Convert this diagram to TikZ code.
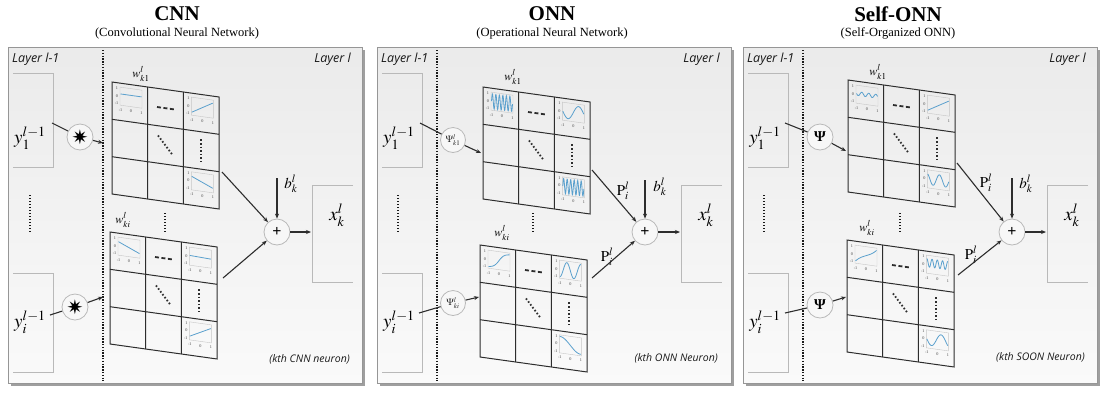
\documentclass[tikz,border=0pt]{standalone}
\usepackage{amsmath}
\usepackage{mathptmx}
\usepackage{fontspec}
\setmainfont{Liberation Serif}
\setsansfont{Open Sans}
\newfontfamily\dingfont{DejaVu Sans}
\usetikzlibrary{arrows.meta,positioning,calc}
\definecolor{curveblue}{RGB}{90,160,205}
\definecolor{frameline}{RGB}{150,150,150}
\definecolor{inkgray}{RGB}{45,45,45}

\tikzset{
  plotbox/.style={draw=gray!45, line width=0.4pt},
  tickl/.style={font=\fontsize{4.2}{5}\selectfont, text=gray!50!black, inner sep=0pt},
  curve/.style={draw=curveblue, line width=0.8pt},
  cellgrid/.style={draw=inkgray, line width=1pt},
  hdash/.style={draw=inkgray, line width=1.8pt, dash pattern=on 4pt off 2.5pt},
  celldots/.style={draw=inkgray, line width=1.8pt, dash pattern=on 1.6pt off 2pt},
}

% small axis with one curve, drawn in a cell
\newcommand{\miniplot}[4]{%
  \begin{scope}[shift={(#2+8,#3+4)}]
    \draw[plotbox] (0,0) rectangle (22,18);
    \node[tickl] (#1-ya) at (-3,1.5) {1};
    \node[tickl] (#1-yb) at (-3,9) {0};
    \node[tickl] (#1-yc) at (-3.5,16.5) {-1};
    \node[tickl] (#1-xa) at (0.5,22.5) {-1};
    \node[tickl] (#1-xb) at (11,22.5) {0};
    \node[tickl] (#1-xc) at (21.5,22.5) {1};
    \draw[curve] plot[domain=-1:1, samples=80] ({11+10.5*\x},{9-7.5*(#4)});
  \end{scope}}

% slanted 3x3 kernel grid
\newcommand{\wmatrix}[6]{%
  \begin{scope}[shift={(#2,#3)}, yslant=-0.14]
    \coordinate (#1-nw) at (0,0);
    \coordinate (#1-se) at (107,112);
    \draw[cellgrid] (0,0) -- (107,0) -- (107,112) -- (0,112) -- cycle;
    \draw[cellgrid] (35.7,0) -- (35.7,112) (71.3,0) -- (71.3,112)
                    (0,37.3) -- (107,37.3) (0,74.7) -- (107,74.7);
    \miniplot{#1-a}{0}{0}{#4}
    \miniplot{#1-b}{71.3}{0}{#5}
    \miniplot{#1-c}{71.3}{74.7}{#6}
    \draw[hdash] (45,18.7) -- (62,18.7);
    \draw[celldots] (46,47) -- (61,65);
    \draw[celldots] (89,45) -- (89,67);
  \end{scope}}

\newcommand{\panelframe}{%
  \fill[gray!75] (3,50) rectangle (357,386);
  \shade[top color=gray!16, bottom color=gray!4, draw=frameline, line width=0.6pt] (0,47) rectangle (354,383);
}

\begin{document}
\begin{tikzpicture}[
    x=1pt, y=-1pt,
    >={Stealth[length=5pt,width=4pt]},
    title/.style={font=\fontsize{21}{24}\selectfont\bfseries, inner sep=0pt},
    subtitle/.style={font=\fontsize{12.5}{14}\selectfont, inner sep=0pt},
    layerlab/.style={font=\sffamily\itshape\fontsize{12.5}{14}\selectfont, text=gray!20!black, inner sep=0pt},
    note/.style={font=\sffamily\itshape\fontsize{10.5}{12}\selectfont, text=gray!20!black, inner sep=0pt},
    biglab/.style={font=\fontsize{19}{22}\selectfont, inner sep=0pt},
    wlab/.style={font=\fontsize{12}{14}\selectfont, inner sep=0pt},
    blab/.style={font=\fontsize{15}{18}\selectfont, inner sep=0pt},
    opnode/.style={circle, draw=gray!55, fill=gray!6, line width=0.8pt, minimum size=26pt, inner sep=0pt, font=\fontsize{20}{20}\selectfont},
    psinode/.style={opnode, minimum size=25pt, font=\fontsize{9.5}{10}\selectfont, text=gray!30!black},
    psibold/.style={opnode, font=\fontsize{15}{16}\selectfont\bfseries},
    sumnode/.style={opnode, font=\fontsize{16}{16}\selectfont\bfseries},
    conn/.style={draw=inkgray, line width=1.1pt},
    divider/.style={draw=gray!20!black, line width=1.4pt, dash pattern=on 1.4pt off 1.4pt},
    inbox/.style={draw=gray!55, line width=0.7pt},
    vdots/.style={draw=gray!20!black, line width=1.6pt, dash pattern=on 1.4pt off 1.6pt}
  ]
  \useasboundingbox (0,0) rectangle (1100,392);

  % titles
  \node[title] (cnn-title) at (177,14) {CNN};
  \node[subtitle] (cnn-sub) at (177,33) {(Convolutional Neural Network)};
  \node[title] (onn-title) at (552,14) {ONN};
  \node[subtitle] (onn-sub) at (552,33) {(Operational Neural Network)};
  \node[title] (sonn-title) at (898,14) {Self-ONN};
  \node[subtitle] (sonn-sub) at (898,33) {(Self-Organized ONN)};

  % ---- CNN ----
  \begin{scope}[shift={(8,0)}]
    \panelframe
    \node[layerlab, anchor=west] (cnn-lprev) at (4,59) {Layer l-1};
    \node[layerlab, anchor=east] (cnn-lcur) at (343,59) {Layer l};
    \coordinate (cnn-dtop) at (95,50);
    \coordinate (cnn-dbot) at (95,381);
    \draw[divider] (cnn-dtop) -- (cnn-dbot);
    \draw[inbox] (5,73) -| (45,167) -- (5,167);
    \draw[inbox] (5,273) -| (45,372) -- (5,372);
    \draw[vdots] (22,195) -- (22,232);
    \node[biglab] (cnn-y1) at (22,138) {$y_1^{l-1}$};
    \node[biglab] (cnn-yi) at (22,322) {$y_i^{l-1}$};
    \coordinate (cnn-y1o) at (44,123);
    \coordinate (cnn-yio) at (42,315);
    \node[opnode] (cnn-op1) at (72,137) {\dingfont ✷};
    \node[opnode] (cnn-opi) at (67,307) {\dingfont ✷};
    \coordinate (cnn-in1) at (95,143);
    \coordinate (cnn-ini) at (95,297);
    \draw[conn] (cnn-y1o) -- (cnn-op1);
    \draw[conn,->] (cnn-op1) -- (cnn-in1);
    \draw[conn] (cnn-yio) -- (cnn-opi);
    \draw[conn,->] (cnn-opi) -- (cnn-ini);
    \wmatrix{cnn-m1}{104}{82}{0.3}{0.8*\x}{-0.6*\x}
    \wmatrix{cnn-mi}{102}{232}{-0.6*\x}{0.05-0.05*\x}{0.7*\x}
    \node[wlab] (cnn-w1) at (133,74) {$w_{k1}^{l}$};
    \node[wlab] (cnn-wi) at (115,220) {$w_{ki}^{l}$};
    \draw[vdots] (157,213) -- (157,233);
    \node[sumnode] (cnn-sum) at (269,232) {+};
    \node[blab] (cnn-b) at (283,184) {$b_k^l$};
    \coordinate (cnn-btop) at (269,178);
    \coordinate (cnn-m1o) at (214,172);
    \coordinate (cnn-mio) at (215,278);
    \draw[conn,->] (cnn-m1o) -- (cnn-sum);
    \draw[conn,->] (cnn-mio) -- (cnn-sum);
    \draw[conn,->] (cnn-btop) -- (cnn-sum);
    \draw[inbox] (345,185) -| (304,282) -- (345,282);
    \node[biglab] (cnn-x) at (329,215) {$x_k^l$};
    \coordinate (cnn-xin) at (303,232);
    \draw[conn,->] (cnn-sum) -- (cnn-xin);
    \node[note, anchor=east] (cnn-note) at (342,359) {(kth CNN neuron)};
  \end{scope}

  % ---- ONN ----
  \begin{scope}[shift={(377,0)}]
    \panelframe
    \node[layerlab, anchor=west] (onn-lprev) at (4,59) {Layer l-1};
    \node[layerlab, anchor=east] (onn-lcur) at (343,59) {Layer l};
    \coordinate (onn-dtop) at (60,50);
    \coordinate (onn-dbot) at (60,381);
    \draw[divider] (onn-dtop) -- (onn-dbot);
    \draw[inbox] (5,73) -| (45,167) -- (5,167);
    \draw[inbox] (5,273) -| (45,372) -- (5,372);
    \draw[vdots] (21,195) -- (21,232);
    \node[biglab] (onn-y1) at (22,138) {$y_1^{l-1}$};
    \node[biglab] (onn-yi) at (22,322) {$y_i^{l-1}$};
    \coordinate (onn-y1o) at (43,123);
    \coordinate (onn-yio) at (42,313);
    \node[psinode] (onn-op1) at (76,140) {$\Psi_{k1}^{l}$};
    \node[psinode] (onn-opi) at (76,303) {$\Psi_{ki}^{l}$};
    \coordinate (onn-in1) at (104,153);
    \coordinate (onn-ini) at (102,297);
    \draw[conn] (onn-y1o) -- (onn-op1);
    \draw[conn,->] (onn-op1) -- (onn-in1);
    \draw[conn] (onn-yio) -- (onn-opi);
    \draw[conn,->] (onn-opi) -- (onn-ini);
    \wmatrix{onn-m1}{106}{87}{sin(1080*\x)}{0.9*sin(180*\x)}{sin(1080*\x)}
    \wmatrix{onn-mi}{103}{245}{tanh(2*\x)}{-cos(270*(\x+1))}{-sin(90*\x)}
    \node[wlab] (onn-w1) at (136,77) {$w_{k1}^{l}$};
    \node[wlab] (onn-wi) at (125,233) {$w_{ki}^{l}$};
    \draw[vdots] (156,213) -- (156,233);
    \node[sumnode] (onn-sum) at (268,232) {+};
    \node[blab] (onn-b) at (283,187) {$b_k^l$};
    \node[blab] (onn-p1) at (246,191) {$\mathrm{P}_i^l$};
    \node[blab] (onn-pi) at (230,257) {$\mathrm{P}_i^l$};
    \coordinate (onn-btop) at (268,180);
    \coordinate (onn-m1o) at (215,170);
    \coordinate (onn-mio) at (215,278);
    \draw[conn,->] (onn-m1o) -- (onn-sum);
    \draw[conn,->] (onn-mio) -- (onn-sum);
    \draw[conn,->] (onn-btop) -- (onn-sum);
    \draw[inbox] (345,185) -| (304,282) -- (345,282);
    \node[biglab] (onn-x) at (329,215) {$x_k^l$};
    \coordinate (onn-xin) at (303,232);
    \draw[conn,->] (onn-sum) -- (onn-xin);
    \node[note, anchor=east] (onn-note) at (341,358) {(kth ONN Neuron)};
  \end{scope}

  % ---- Self-ONN ----
  \begin{scope}[shift={(743,0)}]
    \panelframe
    \node[layerlab, anchor=west] (sonn-lprev) at (4,59) {Layer l-1};
    \node[layerlab, anchor=east] (sonn-lcur) at (343,59) {Layer l};
    \coordinate (sonn-dtop) at (60,50);
    \coordinate (sonn-dbot) at (60,381);
    \draw[divider] (sonn-dtop) -- (sonn-dbot);
    \draw[inbox] (5,73) -| (45,167) -- (5,167);
    \draw[inbox] (5,273) -| (45,372) -- (5,372);
    \draw[vdots] (21,195) -- (21,232);
    \node[biglab] (sonn-y1) at (22,138) {$y_1^{l-1}$};
    \node[biglab] (sonn-yi) at (22,322) {$y_i^{l-1}$};
    \coordinate (sonn-y1o) at (42,123);
    \coordinate (sonn-yio) at (42,313);
    \node[psibold] (sonn-op1) at (77,137) {Ψ};
    \node[psibold] (sonn-opi) at (77,305) {Ψ};
    \coordinate (sonn-in1) at (103,151);
    \coordinate (sonn-ini) at (103,297);
    \draw[conn] (sonn-y1o) -- (sonn-op1);
    \draw[conn,->] (sonn-op1) -- (sonn-in1);
    \draw[conn] (sonn-yio) -- (sonn-opi);
    \draw[conn,->] (sonn-opi) -- (sonn-ini);
    \wmatrix{sonn-m1}{105}{80}{0.1+0.25*sin(540*\x)}{0.8*\x}{0.75*sin(300*\x+60)}
    \wmatrix{sonn-mi}{104}{240}{0.6*\x+0.3*\x*\x*\x}{0.2+0.55*cos(720*\x)}{0.8*sin(200*\x+20)}
    \node[wlab] (sonn-w1) at (135,72) {$w_{k1}^{l}$};
    \node[wlab] (sonn-wi) at (124,228) {$w_{ki}^{l}$};
    \draw[vdots] (157,213) -- (157,233);
    \node[sumnode] (sonn-sum) at (269,232) {+};
    \node[blab] (sonn-b) at (283,184) {$b_k^l$};
    \node[blab] (sonn-p1) at (243,183) {$\mathrm{P}_i^l$};
    \node[blab] (sonn-pi) at (228,255) {$\mathrm{P}_i^l$};
    \coordinate (sonn-btop) at (269,178);
    \coordinate (sonn-m1o) at (214,163);
    \coordinate (sonn-mio) at (215,275);
    \draw[conn,->] (sonn-m1o) -- (sonn-sum);
    \draw[conn,->] (sonn-mio) -- (sonn-sum);
    \draw[conn,->] (sonn-btop) -- (sonn-sum);
    \draw[inbox] (345,185) -| (304,282) -- (345,282);
    \node[biglab] (sonn-x) at (329,215) {$x_k^l$};
    \coordinate (sonn-xin) at (303,232);
    \draw[conn,->] (sonn-sum) -- (sonn-xin);
    \node[note, anchor=east] (sonn-note) at (342,357) {(kth SOON Neuron)};
  \end{scope}
\end{tikzpicture}
\end{document}
